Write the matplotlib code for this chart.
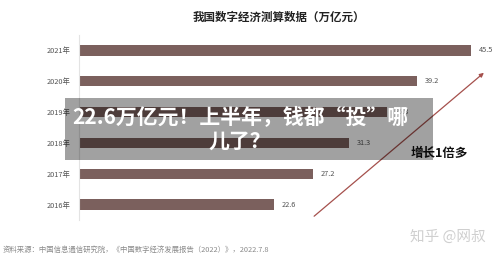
import numpy as np
import matplotlib
matplotlib.use("Agg")
import matplotlib.pyplot as plt
from matplotlib.patches import Rectangle

plt.rcParams['font.family'] = ['Noto Sans CJK SC', 'DejaVu Sans']

# data (万亿元)
years = ["2016年", "2017年", "2018年", "2019年", "2020年", "2021年"]
values = [22.6, 27.2, 31.3, 35.8, 39.2, 45.5]

TITLE = "我国数字经济测算数据（万亿元）"
SOURCE = "资料来源：中国信息通信研究院，《中国数字经济发展报告（2022）》，2022.7.8"
HEADLINE = "22.6万亿元！上半年，钱都“投”哪\n儿了？"

W, H = 500, 258
BAR_COLOR = "#7b605d"


def px(x, y):
    # pixel (from top-left) -> figure fraction
    return x / W, 1 - y / H


fig = plt.figure(figsize=(W / 100, H / 100), dpi=100)
fig.patch.set_facecolor("white")

# axes spanning x 79..471 px, y 35..220 px
l, b = px(79, 220)
ax = fig.add_axes([l, b, (471 - 79) / W, (220 - 35) / H])
y = np.arange(len(years))
ax.barh(y, values, height=0.33, color=BAR_COLOR)
ax.set_xlim(0, 45.5)
ax.set_ylim(-0.5, len(years) - 0.5)
ax.set_yticks(y)
ax.set_yticklabels(years, fontsize=5.3, color="#555555")
ax.tick_params(axis="y", length=0, pad=6)
ax.set_xticks([])
for s in ["top", "right", "bottom"]:
    ax.spines[s].set_visible(False)
ax.spines["left"].set_color("#e3e3e3")
ax.spines["left"].set_linewidth(0.8)
ax.patch.set_alpha(0)
for yi, v in zip(y, values):
    ax.text(v + 0.9, yi, f"{v}", fontsize=5.3, color="#555555",
            va="center", ha="left")

# title
fig.text(*px(279, 17), TITLE, fontsize=8.3, fontweight="bold",
         color="#222222", ha="center", va="center")

# growth arrow
fig.patches.append(matplotlib.patches.FancyArrowPatch(
    px(312, 218), px(486, 71), transform=fig.transFigure,
    arrowstyle="-|>", mutation_scale=6, color="#a5504c", lw=0.9))

fig.text(*px(439, 153), "增长1倍多", fontsize=9, fontweight="bold",
         color="#111111", ha="center", va="center")

# watermark + source
fig.text(*px(448, 237), "知乎 @网叔", fontsize=10.5, color="#cfcfcf",
         ha="center", va="center")
fig.text(*px(3, 250), SOURCE, fontsize=5.3, color="#8a8a8a",
         ha="left", va="center")

# headline overlay box
x0, y0 = px(65, 160)
fig.patches.append(Rectangle((x0, y0), (433 - 65) / W, (160 - 98) / H,
                             transform=fig.transFigure, facecolor="black",
                             alpha=0.37, edgecolor="none", zorder=10))
fig.text(*px(240, 129), HEADLINE, fontsize=15, fontweight="bold",
         color="white", ha="center", va="center", linespacing=1.2,
         zorder=11)

fig.savefig("out.png", dpi=100)
